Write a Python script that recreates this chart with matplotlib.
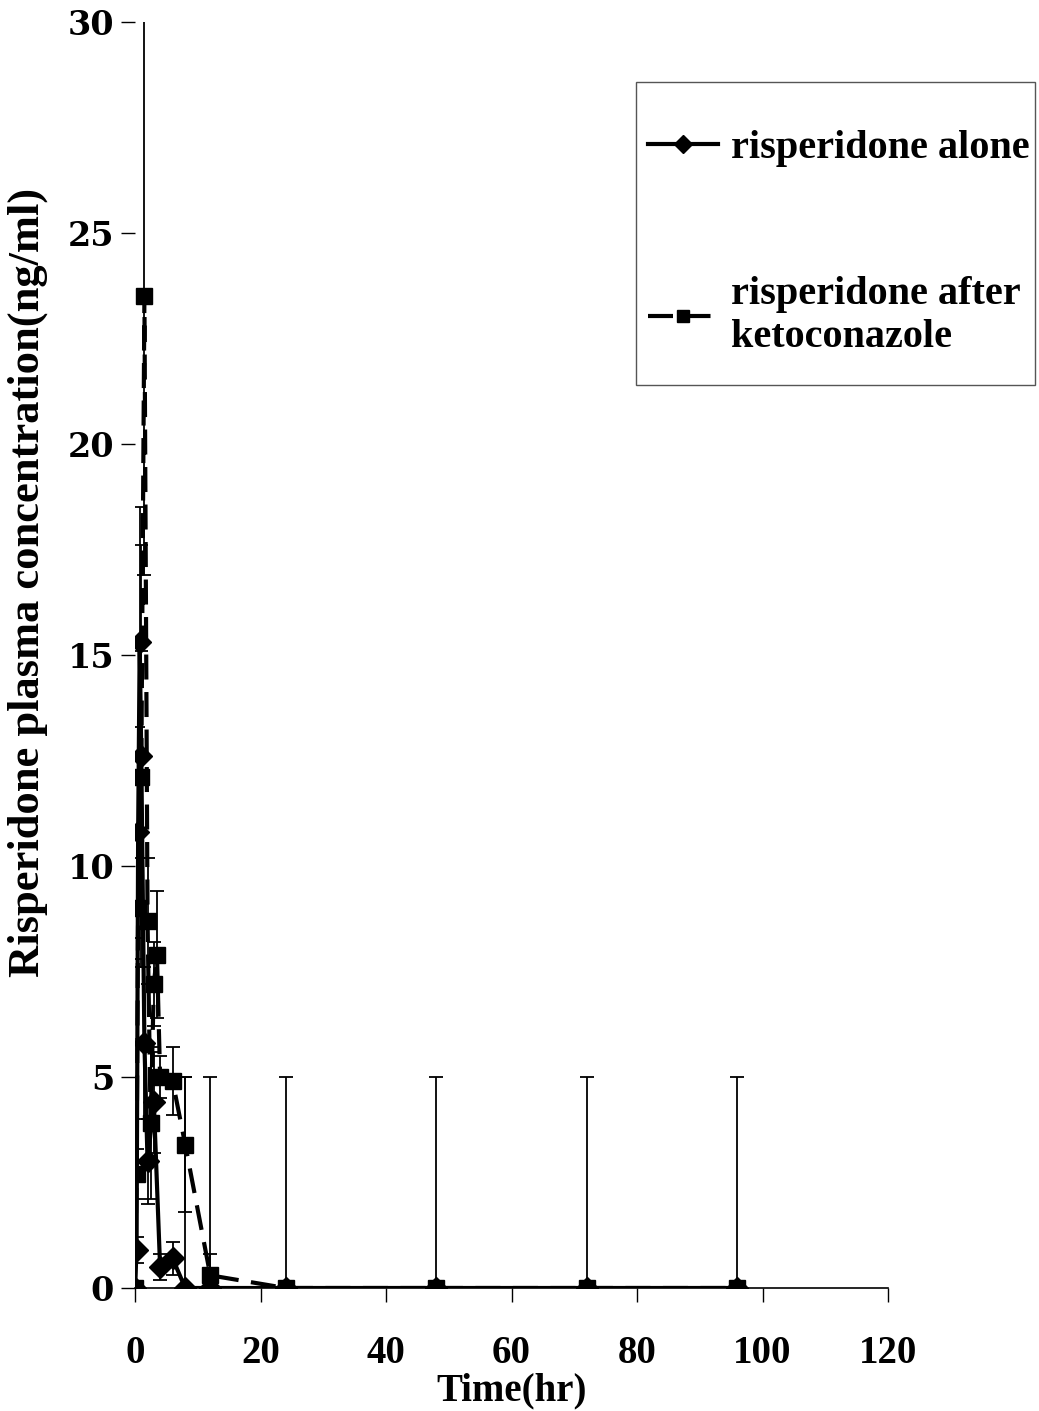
import numpy as np
import matplotlib
matplotlib.use("Agg")
import matplotlib.pyplot as plt
from matplotlib.patches import Rectangle

# data (hours, ng/ml)
alone_time = [0, 0.25, 0.5, 0.75, 1, 1.5, 2, 3, 4, 6, 8, 12, 24, 48, 72, 96]
alone_conc = [0, 0.9, 10.8, 15.3, 12.6, 5.8, 3.0, 4.4, 0.5, 0.7, 0, 0, 0, 0, 0, 0]
alone_err = [0, 0.3, 2.5, 3.2, 5.0, 1.8, 1.0, 1.2, 0.3, 0.4, 5.0, 5.0, 5.0, 5.0, 5.0, 5.0]

keto_time = [0, 0.25, 0.5, 1, 1.5, 2, 2.5, 3, 3.5, 4, 6, 8, 12, 24, 48, 72, 96]
keto_conc = [0, 2.7, 9.0, 12.1, 23.5, 8.7, 3.9, 7.2, 7.9, 5.0, 4.9, 3.4, 0.3, 0, 0, 0, 0]
keto_err = [0, 0.6, 1.2, 3.0, 6.6, 1.5, 1.8, 1.0, 1.5, 0.5, 0.8, 1.6, 0.5, 0, 0, 0, 0]

xticks = [0, 20, 40, 60, 80, 100, 120]
yticks = [0, 5, 10, 15, 20, 25, 30]

plt.rcParams['font.family'] = ['Liberation Serif', 'DejaVu Serif']
plt.rcParams['font.weight'] = 'bold'

fig = plt.figure(figsize=(10.39, 14.11), dpi=100)
ax = fig.add_axes([135/1039, 1-1288/1411, (888-135)/1039, (1288-22)/1411])

ax.errorbar(alone_time, alone_conc, yerr=alone_err, fmt='none', ecolor='black',
            elinewidth=1.3, capsize=5, capthick=1.3)
ax.errorbar(keto_time, keto_conc, yerr=keto_err, fmt='none', ecolor='black',
            elinewidth=1.3, capsize=5, capthick=1.3)

ax.plot(alone_time, alone_conc, color='black', lw=3, marker='D', ms=11,
        label='risperidone alone')
ax.plot(keto_time, keto_conc, color='black', lw=3, ls=(0, (6, 3)), marker='s', ms=11,
        label='risperidone after\nketoconazole')

ax.set_xlim(0, 120)
ax.set_ylim(0, 30)
ax.set_xticks(xticks)
ax.set_yticks(yticks)
ax.spines['top'].set_visible(False)
ax.spines['right'].set_visible(False)
ax.spines['left'].set_visible(False)
ax.spines['bottom'].set_linewidth(1.2)
ax.tick_params(axis='x', direction='out', length=10, width=1, labelsize=28, pad=24)
ax.tick_params(axis='y', direction='out', length=10, width=1, labelsize=24, pad=5)
for lab in ax.get_xticklabels():
    lab.set_fontweight('bold')
for lab in ax.get_yticklabels():
    lab.set_fontweight('bold')
    lab.set_family('DejaVu Serif')

ax.set_xlabel('Time(hr)', fontsize=28, fontweight='bold', labelpad=0)
ax.set_ylabel('Risperidone plasma concentration(ng/ml)', fontsize=32,
              fontweight='bold')
ax.yaxis.set_label_coords((48-135)/753, (1288-582)/1266)

leg = fig.legend(loc='upper left', bbox_to_anchor=(648/1039, 1-130/1411),
                 fontsize=29, frameon=False, borderpad=0, labelspacing=2.7,
                 handlelength=1.75, handletextpad=0.3, borderaxespad=0,
                 markerscale=0.8)
for t in leg.get_texts():
    t.set_fontweight('bold')

fig.patches.append(Rectangle((636/1039, 1-385/1411), (1035-636)/1039, (385-82)/1411,
                             transform=fig.transFigure, fill=False,
                             edgecolor='#555555', lw=1.0))

fig.savefig('out.png', dpi=100)
